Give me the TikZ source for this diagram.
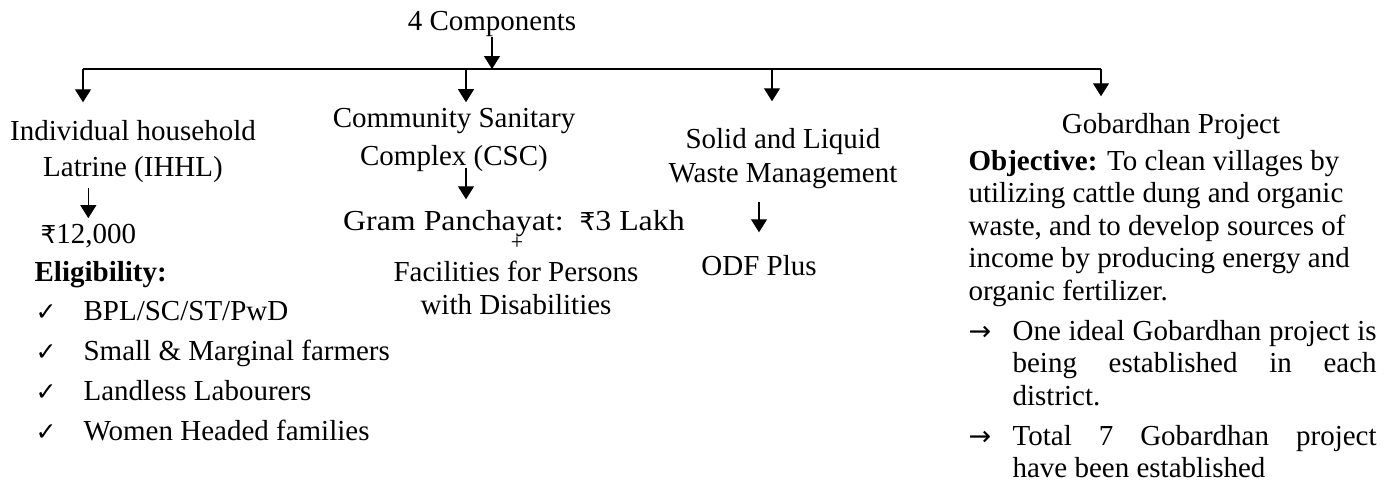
\documentclass[tikz,border=0pt]{standalone}
\usepackage{fontspec}
\setmainfont{Liberation Serif}
\newfontfamily\gpfont{Liberation Serif}[FakeStretch=1.1]
\newfontfamily\symfont{DejaVu Sans}
\newfontfamily\rsfont{DejaVu Sans}[Scale=0.85]
\usetikzlibrary{arrows.meta}

\newcommand{\rs}{{\rsfont ₹}}
\newcommand{\chk}{\makebox[24pt][l]{\symfont\fontsize{12.5}{12.5}\selectfont ✓}}
\newcommand{\arrowitem}[1]{\makebox[22pt][l]{\symfont\fontsize{13.5}{13.5}\selectfont →}\parbox[t]{182pt}{#1}}

\begin{document}
\begin{tikzpicture}[x=0.5pt,y=-0.5pt,line width=0.6pt,
  every node/.style={inner sep=0pt,font=\fontsize{14.5}{18}\selectfont},
  lbl/.style={align=center,anchor=base},
  arr/.style={-{Triangle[width=8pt,length=6.5pt]}}]
\useasboundingbox (0,0) rectangle (1398,483);
% top and the bar
\node[anchor=base] (comp) at (492,30) {4 Components};
\coordinate (L) at (83,69);
\coordinate (b2) at (466,69);
\coordinate (b3) at (772,69);
\coordinate (R) at (1101,69);
\draw[line width=0.8pt] (L) -- (R);
\draw[arr] (comp) -- (comp |- L);
% the four components (base = last line)
\node[lbl] (ihhl) at (133,176) {Individual household\\Latrine (IHHL)};
\node[lbl,font=\fontsize{14.5}{19}\selectfont] (csc) at (454,165) {Community Sanitary\\Complex (CSC)};
\node[lbl,font=\fontsize{14.5}{17}\selectfont] (solid) at (783,182) {Solid and Liquid\\Waste Management};
\node[anchor=base] (gobar) at (1171,133) {Gobardhan Project};
\draw[arr,shorten >=8.5pt] (L) -- (L |- ihhl.north);
\draw[arr,shorten >=2.5pt] (b2) -- (b2 |- csc.north);
\draw[arr,shorten >=13pt] (b3) -- (b3 |- solid.north);
\draw[arr,shorten >=8pt] (R) -- (R |- gobar.north);
% IHHL
\node[anchor=base west] (rs12) at (40,243) {\rs12,000};
\node[anchor=base west,font=\fontsize{14.5}{18}\selectfont\bfseries] (eligt) at (34,281) {Eligibility:};
\node[anchor=base west,align=left,font=\fontsize{14.5}{20}\selectfont] (elig) at (35,440) {\chk BPL/SC/ST/PwD\\
  \chk Small \& Marginal farmers\\
  \chk Landless Labourers\\
  \chk Women Headed families};
\draw[arr,shorten <=2.5pt,shorten >=2.5pt] (rs12.north |- ihhl.south) -- (rs12.north);
% CSC
\node[anchor=base,font=\fontsize{14.5}{18}\gpfont] (gp) at (514,230) {Gram Panchayat:\ \ \rs3 Lakh};
\node[font=\fontsize{11}{11}\selectfont] (plus) at (517,243) {+};
\node[lbl,font=\fontsize{14.5}{16.5}\selectfont] (fac) at (516,314) {Facilities for Persons\\with Disabilities};
\draw[arr,shorten <=-2pt,shorten >=5pt] (b2 |- csc.south) -- (b2 |- gp.north);
% SLWM
\node[anchor=base] (odf) at (759,275) {ODF Plus};
\draw[arr,shorten <=6.5pt,shorten >=11pt] (odf.north |- solid.south) -- (odf.north);
% Gobardhan
\node[anchor=base west,text width=204pt,align=flush left,font=\fontsize{14.5}{16.25}\selectfont] (obj) at (968,170) {\textbf{Objective:} To clean villages by\\
  utilizing cattle dung and organic\\
  waste, and to develop sources of\\
  income by producing energy and\\
  organic fertilizer.};
\node[anchor=base west,font=\fontsize{14.5}{16.25}\selectfont] (pt1) at (968,340) {\arrowitem{\makebox[\linewidth][s]{One ideal Gobardhan project is}\\
  \makebox[\linewidth][s]{being established in each}\\
  district.}};
\node[anchor=base west,font=\fontsize{14.5}{16.25}\selectfont] (pt2) at (968,445) {\arrowitem{\makebox[\linewidth][s]{Total 7 Gobardhan project}\\
  have been established}};
\end{tikzpicture}
\end{document}
